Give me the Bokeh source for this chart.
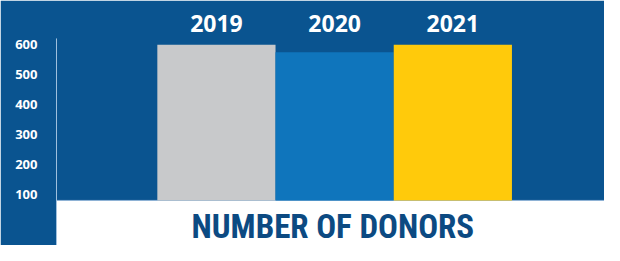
from bokeh.plotting import figure
from bokeh.models import Range1d, FixedTicker, BoxAnnotation, Span, Label, ColumnDataSource
from bokeh.embed import file_html
from bokeh.resources import INLINE

# ---- data ----
years = ["2019", "2020", "2021"]
donors = [598, 573, 598]
bar_colors = ["#c8c9cb", "#0f75bc", "#ffca0b"]
y_ticks = [100, 200, 300, 400, 500, 600]
title_text = "NUMBER OF DONORS"

BG = "#0a5490"
BASE = 80  # axis starts here (truncated axis)

xs = list(range(len(years)))
src = ColumnDataSource(dict(x=xs, top=donors, color=bar_colors))

p = figure(width=604, height=245, output_backend="svg", toolbar_location=None,
           x_range=Range1d(-1.353, len(years) - 0.5 + 0.783),
           y_range=Range1d(-70, 619), x_axis_location="above",
           min_border_left=56, min_border_right=0, min_border_top=38, min_border_bottom=0)
p.background_fill_color = BG
p.border_fill_color = BG
p.outline_line_color = None
p.grid.visible = False

# white band below the bars
p.add_layout(BoxAnnotation(top=BASE, fill_color="white", fill_alpha=1, line_color=None, level="underlay"))
p.add_layout(Span(location=BASE, dimension="width", line_color="#8fb3d6", line_width=1, level="underlay"))

p.vbar(x="x", top="top", bottom=BASE, width=1.0, color="color", line_color=None, source=src)

# x axis (years above)
xa = p.xaxis[0]
xa.ticker = FixedTicker(ticks=xs)
xa.major_label_overrides = {i: y for i, y in zip(xs, years)}
xa.axis_line_color = BG
xa.axis_line_width = 3
xa.major_tick_line_color = None
xa.minor_tick_line_color = None
xa.major_label_text_font = "Open Sans"
xa.major_label_text_font_style = "bold"
xa.major_label_text_font_size = "23px"
xa.major_label_text_color = "white"
xa.major_label_standoff = 1

ya = p.yaxis[0]
ya.ticker = FixedTicker(ticks=y_ticks)
ya.axis_line_color = "#9fc0de"
ya.axis_line_width = 1
ya.major_tick_line_color = None
ya.minor_tick_line_color = None
ya.major_tick_out = 0
ya.major_tick_in = 0
ya.major_label_standoff = 19
ya.major_label_text_font = "Open Sans"
ya.major_label_text_font_style = "bold"
ya.major_label_text_font_size = "13px"
ya.major_label_text_color = "white"

mid_x = (p.x_range.start + p.x_range.end) / 2 + 0.02
p.add_layout(Label(x=mid_x, y=-8, text=title_text, text_align="center", text_baseline="middle",
                   text_font="'Roboto Condensed', 'Open Sans', sans-serif",
                   text_font_style="bold", text_font_size="33px", text_color="#0c4a82"))

open("out.html", "w").write(file_html(p, INLINE))
